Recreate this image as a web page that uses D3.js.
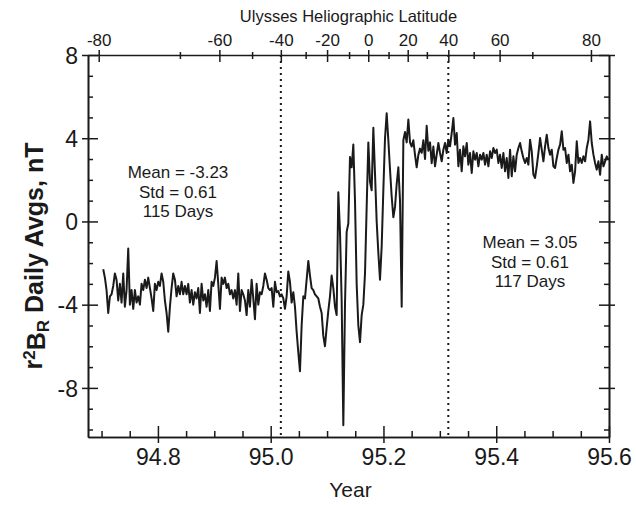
<!DOCTYPE html>
<html>
<head>
<meta charset="utf-8">
<script src="https://cdn.jsdelivr.net/npm/d3@7"></script>
<style>
  html, body { margin: 0; padding: 0; background: #fff; }
  svg { display: block; font-family: "Liberation Sans", Arial, Helvetica, sans-serif; }
</style>
</head>
<body>
<svg id="chart" width="636" height="505"></svg>
<script>
// ---- Data ----
// r^2 B_R daily averages (nT), evenly spaced in time from startYear to endYear
const startYear = 94.703;
const endYear = 95.599;
const brValues = [
  -2.3,-2.7,-3.3,-4.4,-3.6,-3.5,-3.1,-2.5,-2.8,-3.8,
  -3.0,-3.9,-2.5,-4.1,-3.3,-1.3,-4.0,-3.3,-4.2,-3.3,
  -3.9,-3.6,-4.0,-3.0,-3.3,-2.8,-3.2,-2.7,-3.2,-3.7,
  -4.3,-3.0,-3.3,-2.9,-3.1,-2.5,-2.9,-3.8,-4.4,-5.3,
  -4.1,-3.2,-2.5,-2.8,-3.6,-3.1,-3.5,-2.9,-3.5,
  -3.1,-3.5,-3.0,-3.9,-3.3,-4.0,-3.4,-3.7,-3.2,-4.4,
  -3.0,-3.8,-3.5,-4.1,-3.3,-4.3,-2.9,-3.1,-2.7,-1.9,
  -3.0,-4.2,-2.7,-3.0,-2.7,-3.2,-3.0,-3.5,-3.3,-3.7,
  -3.3,-4.0,-2.5,-4.3,-3.3,-3.5,-3.8,-4.5,-3.3,-4.1,
  -2.8,-3.7,-4.7,-3.0,-4.0,-3.4,-3.5,-3.1,-2.5,-2.8,-3.2,
  -3.3,-3.2,-4.1,-2.9,-3.4,-3.35,-3.6,-3.5,-3.7,-4.2,
  -3.6,-2.4,-2.9,-3.9,-3.4,-4.1,-5.3,-6.3,-7.2,-5.0,
  -3.6,-3.7,-2.8,-1.9,-2.6,-3.2,-3.3,-3.5,-3.6,-3.7,
  -4.1,-4.4,-5.5,-6.0,-5.1,-4.3,-3.6,-2.6,-3.2,-4.1,
  -4.5,1.4,-0.5,-3.8,-9.8,
  -4.0,-0.5,-0.1,3.1,2.6,3.7,1.0,-3.0,-5.0,-5.8,
  -4.5,-4.0,-2.5,0.7,3.8,1.9,1.5,4.5,2.3,0.0,
  -1.5,-2.8,-1.2,1.5,4.0,5.2,3.9,2.5,1.2,0.2,
  0.7,1.8,2.6,1.0,-4.1,3.9,4.3,3.8,4.9,3.8,
  3.6,3.9,3.2,2.6,3.2,3.5,
  3.3,3.9,3.0,4.6,3.4,3.8,2.8,3.6,
  2.65,3.21,3.77,3.29,2.89,3.45,3.77,3.29,3.93,3.61,
  4.25,4.97,3.69,4.25,2.65,3.45,2.41,3.61,3.13,3.77,
  2.73,3.29,2.33,3.37,2.97,3.29,2.65,3.21,2.97,3.29,
  2.73,3.21,2.65,3.37,3.05,3.53,3.29,3.45,2.81,3.21,
  2.57,3.29,2.41,3.05,2.09,3.45,2.17,3.13,2.41,3.21,
  3.53,3.77,3.37,3.05,
  2.81,3.05,2.73,3.93,3.37,2.25,2.09,2.65,3.29,4.01,
  3.45,2.89,3.61,4.17,3.53,3.21,3.45,2.65,2.57,3.05,
  3.45,3.69,4.33,3.45,3.53,2.81,3.21,2.41,2.73,1.85,
  2.41,3.85,2.81,3.05,2.81,3.13,2.89,3.53,3.93,4.81,
  3.77,3.21,2.81,2.49,2.89,2.25,3.21,2.65,2.89,3.13,2.97
];

// Bottom axis (year)
const yearDomain = [94.676, 95.6];
const yearMajorTicks = [94.8, 95.0, 95.2, 95.4, 95.6];
const yearMinorTicks = [94.7, 94.75, 94.85, 94.9, 94.95, 95.05, 95.1, 95.15, 95.25, 95.3, 95.35, 95.45, 95.5, 95.55];

// Left/right axis (nT)
const valueDomain = [-10.36, 8];
const valueMajorTicks = [-8, -4, 0, 4, 8];
const valueMinorTicks = [-10, -9, -7, -6, -5, -3, -2, -1, 1, 2, 3, 5, 6, 7];

// Top axis: Ulysses heliographic latitude, positioned by year
const latTickYears  = [94.695, 94.839, 94.909, 94.967, 95.018, 95.062, 95.100, 95.139, 95.173, 95.209, 95.243, 95.277, 95.315, 95.360, 95.406, 95.464, 95.568];
const latTickValues = [-80, -70, -60, -50, -40, -30, -20, -10, 0, 10, 20, 30, 40, 50, 60, 70, 80];
const latLabelled   = [-80, -60, -40, -20, 0, 20, 40, 60, 80];

// Dotted markers at latitude -40 and +40
const markerLatitudes = [-40, 40];

// Annotations
const leftStats  = ["Mean = -3.23", "Std = 0.61", "115 Days"];
const rightStats = ["Mean = 3.05", "Std = 0.61", "117 Days"];

// ---- Layout ----
const svg = d3.select("#chart");
const M = { left: 88, right: 609, top: 55, bottom: 437 };
const ink = "#1a1a1a";

const x = d3.scaleLinear().domain(yearDomain).range([M.left, M.right]);
const y = d3.scaleLinear().domain(valueDomain).range([M.bottom, M.top]);

function styleAxis(g, fontSize) {
  g.selectAll("path.domain").attr("stroke", ink).attr("stroke-width", 1.6);
  g.selectAll(".tick line").attr("stroke", ink).attr("stroke-width", 1.5);
  g.selectAll(".tick text").attr("fill", ink).style("font-size", fontSize + "px")
    .style("font-family", '"Liberation Sans", Arial, sans-serif');
}

// Left axis: majors crossing, minors inward
const gLeftMinor = svg.append("g").attr("transform", `translate(${M.left},0)`)
  .call(d3.axisLeft(y).tickValues(valueMinorTicks).tickSize(-5).tickSizeOuter(0).tickFormat(""));
styleAxis(gLeftMinor, 10);
const gLeft = svg.append("g").attr("transform", `translate(${M.left},0)`)
  .call(d3.axisLeft(y).tickValues(valueMajorTicks).tickSize(-10).tickSizeOuter(0).tickPadding(10).tickFormat(d => String(d)));
styleAxis(gLeft, 23);
gLeft.selectAll(".tick line").attr("x1", -6);
gLeft.selectAll(".tick text").attr("dy", "0.36em");

// Right axis
const gRightMinor = svg.append("g").attr("transform", `translate(${M.right},0)`)
  .call(d3.axisRight(y).tickValues(valueMinorTicks).tickSize(-5).tickSizeOuter(0).tickFormat(""));
styleAxis(gRightMinor, 10);
const gRight = svg.append("g").attr("transform", `translate(${M.right},0)`)
  .call(d3.axisRight(y).tickValues(valueMajorTicks).tickSize(-10).tickSizeOuter(0).tickFormat(""));
styleAxis(gRight, 10);
gRight.selectAll(".tick line").attr("x1", 6);

// Bottom axis
const gBottomMinor = svg.append("g").attr("transform", `translate(0,${M.bottom})`)
  .call(d3.axisBottom(x).tickValues(yearMinorTicks).tickSize(-6).tickSizeOuter(0).tickFormat(""));
styleAxis(gBottomMinor, 10);
const gBottom = svg.append("g").attr("transform", `translate(0,${M.bottom})`)
  .call(d3.axisBottom(x).tickValues(yearMajorTicks).tickSize(-11).tickSizeOuter(0).tickPadding(12).tickFormat(d3.format(".1f")));
styleAxis(gBottom, 23);
gBottom.selectAll(".tick line").attr("y1", 6);

// Top axis (latitude)
const latYear = new Map(latTickValues.map((v, i) => [v, latTickYears[i]]));
const gTop = svg.append("g").attr("transform", `translate(0,${M.top})`)
  .call(d3.axisTop(x).tickValues(latTickYears).tickSize(-5).tickSizeOuter(0).tickPadding(8)
    .tickFormat((d, i) => latLabelled.includes(latTickValues[i]) ? String(latTickValues[i]) : ""));
styleAxis(gTop, 17);
gTop.selectAll(".tick line")
  .attr("y1", (d, i) => latLabelled.includes(latTickValues[i]) ? -5 : -3)
  .attr("y2", (d, i) => latLabelled.includes(latTickValues[i]) ? 7 : 4);
gTop.selectAll(".tick text").attr("dy", "0em").attr("y", -9);

// Dotted latitude markers
svg.append("g").selectAll("line").data(markerLatitudes).join("line")
  .attr("x1", d => x(latYear.get(d))).attr("x2", d => x(latYear.get(d)))
  .attr("y1", M.top).attr("y2", M.bottom)
  .attr("stroke", ink).attr("stroke-width", 2).attr("stroke-dasharray", "2,4");

// Data line
const step = (endYear - startYear) / (brValues.length - 1);
const line = d3.line()
  .x((d, i) => x(startYear + i * step))
  .y(d => y(d));
svg.append("path").datum(brValues)
  .attr("d", line).attr("fill", "none")
  .attr("stroke", ink).attr("stroke-width", 2).attr("stroke-linejoin", "round");

// Axis titles
svg.append("text").attr("x", (M.left + M.right) / 2).attr("y", 22)
  .attr("text-anchor", "middle").style("font-size", "16.5px").attr("fill", ink)
  .text("Ulysses Heliographic Latitude");
svg.append("text").attr("x", (M.left + M.right) / 2 + 2).attr("y", 497)
  .attr("text-anchor", "middle").style("font-size", "21px").attr("fill", ink)
  .text("Year");

const yt = svg.append("text")
  .attr("transform", `translate(42,${(M.top + M.bottom) / 2 + 10}) rotate(-90)`)
  .attr("text-anchor", "middle").style("font-size", "25px").style("font-weight", "bold").attr("fill", ink);
yt.append("tspan").text("r");
yt.append("tspan").attr("dy", "-0.4em").style("font-size", "17px").text("2");
yt.append("tspan").attr("dy", "0.4em").text("B");
yt.append("tspan").attr("dy", "0.25em").style("font-size", "17px").text("R");
yt.append("tspan").attr("dy", "-0.25em").text(" Daily Avgs, nT");

// Stats annotations
svg.append("g").selectAll("text").data(leftStats).join("text")
  .attr("x", 178).attr("y", (d, i) => 178 + i * 19.5)
  .attr("text-anchor", "middle").style("font-size", "17px").attr("fill", ink).text(d => d);
svg.append("g").selectAll("text").data(rightStats).join("text")
  .attr("x", 530).attr("y", (d, i) => 248 + i * 19.5)
  .attr("text-anchor", "middle").style("font-size", "17px").attr("fill", ink).text(d => d);
</script>
</body>
</html>
